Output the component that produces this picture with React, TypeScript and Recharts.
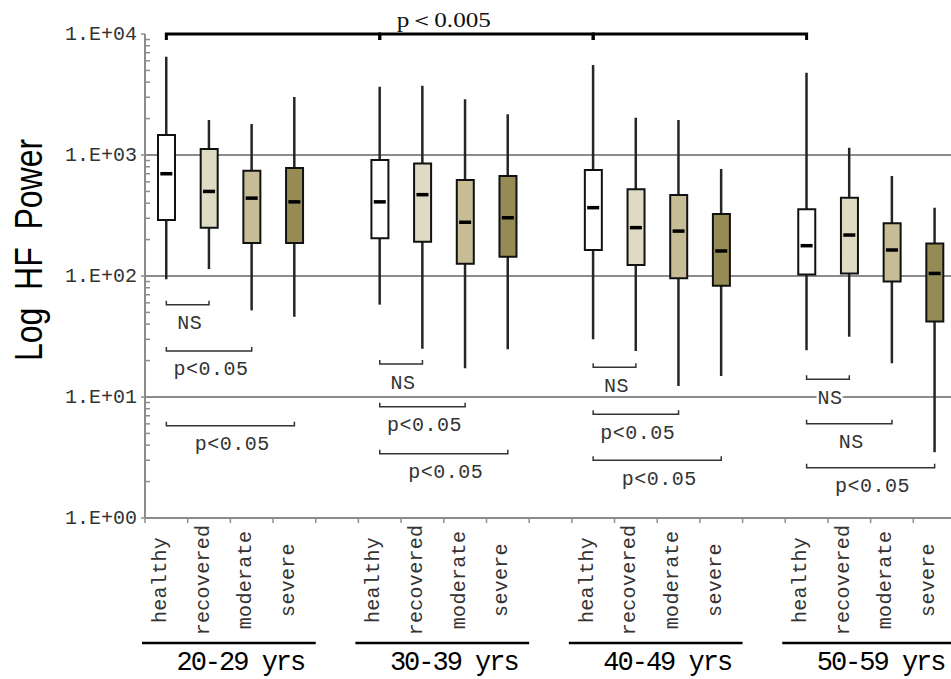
import {
  Bar,
  CartesianGrid,
  Cell,
  ComposedChart,
  ReferenceLine,
  Scatter,
  XAxis,
  YAxis,
} from "recharts";

const ageGroups = ["20-29 yrs", "30-39 yrs", "40-49 yrs", "50-59 yrs"];
const conditions = ["healthy", "recovered", "moderate", "severe"];

// four conditions per age group, in the order of ageGroups
const whiskerHigh = [6490, 1950, 1800, 3020, 3670, 3740, 2890, 2170, 5540, 2030, 1950, 766, 4790, 1150, 670, 367];
const upperQuartile = [1460, 1120, 740, 780, 910, 850, 620, 670, 752, 520, 467, 325, 356, 444, 273, 186];
const medians = [700, 500, 440, 410, 410, 470, 278, 303, 367, 251, 235, 161, 178, 218, 164, 105];
const lowerQuartile = [290, 250, 187, 187, 205, 192, 126, 144, 164, 123, 96, 83, 103, 105, 90, 42];
const whiskerLow = [94, 114, 52, 46, 58, 25, 17.3, 24.8, 30, 24, 12.3, 14.9, 24.4, 31.5, 19, 3.5];

const yMajorTicks = [1, 10, 100, 1000, 10000];
const yTickLabels = ["1.E+00", "1.E+01", "1.E+02", "1.E+03", "1.E+04"];
const yMinorSteps = [2, 3, 4, 5, 6, 7, 8, 9];
const gridValues = [10, 100, 1000];

// healthy vs. each other condition inside an age group
const pairGroup = [0, 0, 0, 1, 1, 1, 2, 2, 2, 3, 3, 3];
const pairTarget = [1, 2, 3, 1, 2, 3, 1, 2, 3, 1, 2, 3];
const pairHeight = [58, 24, 5.8, 18.7, 8.3, 3.4, 17.6, 7.2, 3.0, 14, 6, 2.6];
const pairLabel = ["NS", "p<0.05", "p<0.05", "NS", "p<0.05", "p<0.05", "NS", "p<0.05", "p<0.05", "NS", "NS", "p<0.05"];

const trendLabel = "p＜0.005";
const trendHeight = 10000;

const fills: Record<string, string> = {
  healthy: "#ffffff",
  recovered: "#dfdac3",
  moderate: "#c6bd97",
  severe: "#968b55",
};

const AXIS = "#8c8c8c";
const MONO = "'Liberation Mono', 'DejaVu Sans Mono', monospace";

type Row = {
  key: string;
  group: number;
  cond: number;
  label?: string;
  gap?: boolean;
  whisker?: [number, number];
  box?: [number, number];
  median?: number;
};

const slotKey = (g: number, c: number) => `${ageGroups[g]}|${conditions[c]}`;

const rows: Row[] = [];
ageGroups.forEach((_, g) => {
  conditions.forEach((cond, c) => {
    const i = g * conditions.length + c;
    rows.push({
      key: slotKey(g, c),
      group: g,
      cond: c,
      label: cond,
      whisker: [whiskerLow[i], whiskerHigh[i]],
      box: [lowerQuartile[i], upperQuartile[i]],
      median: medians[i],
    });
  });
  if (g < ageGroups.length - 1) rows.push({ key: `gap-${g}`, group: g, cond: -1, gap: true });
});

const yTicks: number[] = [];
yMajorTicks.forEach((t, i) => {
  yTicks.push(t);
  if (i < yMajorTicks.length - 1) yMinorSteps.forEach((s) => yTicks.push(s * t));
});

function YTick(props: any) {
  const { x, y, payload } = props;
  const major = yMajorTicks.indexOf(payload.value);
  if (major < 0) {
    return <line x1={x} x2={x + 5} y1={y} y2={y} stroke={AXIS} strokeWidth={1.5} />;
  }
  return (
    <g>
      <line x1={x - 4} x2={x} y1={y} y2={y} stroke={AXIS} strokeWidth={1.5} />
      <text
        x={x - 8}
        y={y}
        textAnchor="end"
        dominantBaseline="central"
        fontFamily={MONO}
        fontSize={20}
        fill="#333"
      >
        {yTickLabels[major]}
      </text>
    </g>
  );
}

function XTick(props: any) {
  const { x, y, payload } = props;
  const half = payload.offset || 21.34;
  const idx = rows.findIndex((r) => r.key === payload.value);
  const row = rows[idx];
  return (
    <g>
      <line x1={x - half} x2={x - half} y1={y} y2={y + 5} stroke={AXIS} strokeWidth={1.5} />
      {idx === rows.length - 1 && (
        <line x1={x + half} x2={x + half} y1={y} y2={y + 5} stroke={AXIS} strokeWidth={1.5} />
      )}
      {row && !row.gap && (
        <text
          transform={`translate(${x - 6},${y + 62}) rotate(-90)`}
          textAnchor="middle"
          dominantBaseline="central"
          fontFamily={MONO}
          fontSize={20}
          letterSpacing={0.3}
          fill="#333"
        >
          {row.label}
        </text>
      )}
      {row && row.cond === 1 && (
        <g>
          <line
            x1={x - 3 * half - 3}
            x2={x + 5 * half}
            y1={y + 125}
            y2={y + 125}
            stroke="#000"
            strokeWidth={2.5}
          />
          <text
            x={x + half + 10}
            y={y + 145}
            textAnchor="middle"
            dominantBaseline="central"
            fontFamily={MONO}
            fontSize={27}
            letterSpacing={-2}
            fill="#000"
          >
            {ageGroups[row.group]}
          </text>
        </g>
      )}
    </g>
  );
}

function MedianMark(props: any) {
  const { cx, cy, payload } = props;
  if (!payload || payload.median == null || !Number.isFinite(cy)) return null;
  return <rect x={cx - 6} y={cy - 1.75} width={12} height={3.5} fill="#000" />;
}

function PairBracket(props: any) {
  const { x1, x2, y1, label } = props;
  if (!Number.isFinite(x1) || !Number.isFinite(y1)) return null;
  return (
    <g>
      <path
        d={`M${x1},${y1 - 4}V${y1}H${x2}V${y1 - 4}`}
        fill="none"
        stroke="#333"
        strokeWidth={1.5}
      />
      <text
        x={(x1 + x2) / 2 + 2}
        y={y1 + 19}
        textAnchor="middle"
        dominantBaseline="central"
        fontFamily={MONO}
        fontSize={20}
        letterSpacing={0.5}
        fill="#333"
        stroke="#fff"
        strokeWidth={5}
        paintOrder="stroke"
      >
        {label}
      </text>
    </g>
  );
}

function TrendBracket(props: any) {
  const { x1, x2, y1, showLabel } = props;
  if (!Number.isFinite(x1) || !Number.isFinite(y1)) return null;
  return (
    <g>
      <path
        d={`M${x1},${y1 + 6}V${y1}H${x2}V${y1 + 6}`}
        fill="none"
        stroke="#000"
        strokeWidth={3}
      />
      {showLabel && (
        <text
          transform={`translate(${x1 + (x2 - x1) * 0.3},${y1 - 7}) scale(1.2,1)`}
          textAnchor="middle"
          fontFamily="'Liberation Serif', serif"
          fontSize={21}
          fill="#111"
        >
          {trendLabel}
        </text>
      )}
    </g>
  );
}

function YLabel() {
  return (
    <text
      transform="translate(42,250) scale(1.2,1) rotate(-90)"
      textAnchor="middle"
      fontFamily="'Liberation Sans', Arial, sans-serif"
      fontSize={32}
      fill="#000"
      style={{ whiteSpace: "pre" }}
    >
      {"Log  HF  Power"}
    </text>
  );
}

export default function App() {
  return (
    <div
      style={{
        position: "fixed",
        left: 0,
        top: 0,
        width: 951,
        height: 679,
        overflow: "hidden",
        background: "#fff",
      }}
    >
      <ComposedChart
        width={960}
        height={679}
        data={rows}
        margin={{ top: 34, right: 4, bottom: 0, left: 0 }}
      >
        <CartesianGrid
          vertical={false}
          horizontalValues={gridValues}
          stroke={AXIS}
          strokeWidth={2}
        />
        <XAxis
          dataKey="key"
          allowDuplicatedCategory={false}
          interval={0}
          height={161}
          tickSize={0}
          tickMargin={0}
          tickLine={false}
          axisLine={{ stroke: AXIS, strokeWidth: 2 }}
          tick={(p: any) => <XTick {...p} />}
        />
        <XAxis xAxisId="box" dataKey="key" allowDuplicatedCategory={false} hide />
        <YAxis
          type="number"
          scale="log"
          domain={[1, 10000]}
          allowDataOverflow
          ticks={yTicks}
          interval={0}
          width={145}
          tickSize={0}
          tickMargin={0}
          tickLine={false}
          axisLine={{ stroke: AXIS, strokeWidth: 2 }}
          tick={(p: any) => <YTick {...p} />}
          label={<YLabel />}
        />
        <Bar dataKey="whisker" barSize={2.5} fill="#262626" isAnimationActive={false} />
        <Bar
          xAxisId="box"
          dataKey="box"
          barSize={17}
          stroke="#111"
          strokeWidth={2}
          isAnimationActive={false}
        >
          {rows.map((r) => (
            <Cell key={r.key} fill={r.label ? fills[r.label] : "none"} />
          ))}
        </Bar>
        <Scatter dataKey="median" shape={(p: any) => <MedianMark {...p} />} isAnimationActive={false} />
        {pairGroup.map((g, i) => (
          <ReferenceLine
            key={`pair-${i}`}
            ifOverflow="visible"
            segment={[
              { x: slotKey(g, 0), y: pairHeight[i] },
              { x: slotKey(g, pairTarget[i]), y: pairHeight[i] },
            ]}
            shape={(p: any) => <PairBracket {...p} label={pairLabel[i]} />}
          />
        ))}
        {ageGroups.slice(1).map((_, g) => (
          <ReferenceLine
            key={`trend-${g}`}
            ifOverflow="visible"
            segment={[
              { x: slotKey(g, 0), y: trendHeight },
              { x: slotKey(g + 1, 0), y: trendHeight },
            ]}
            shape={(p: any) => <TrendBracket {...p} showLabel={g === 1} />}
          />
        ))}
      </ComposedChart>
    </div>
  );
}
